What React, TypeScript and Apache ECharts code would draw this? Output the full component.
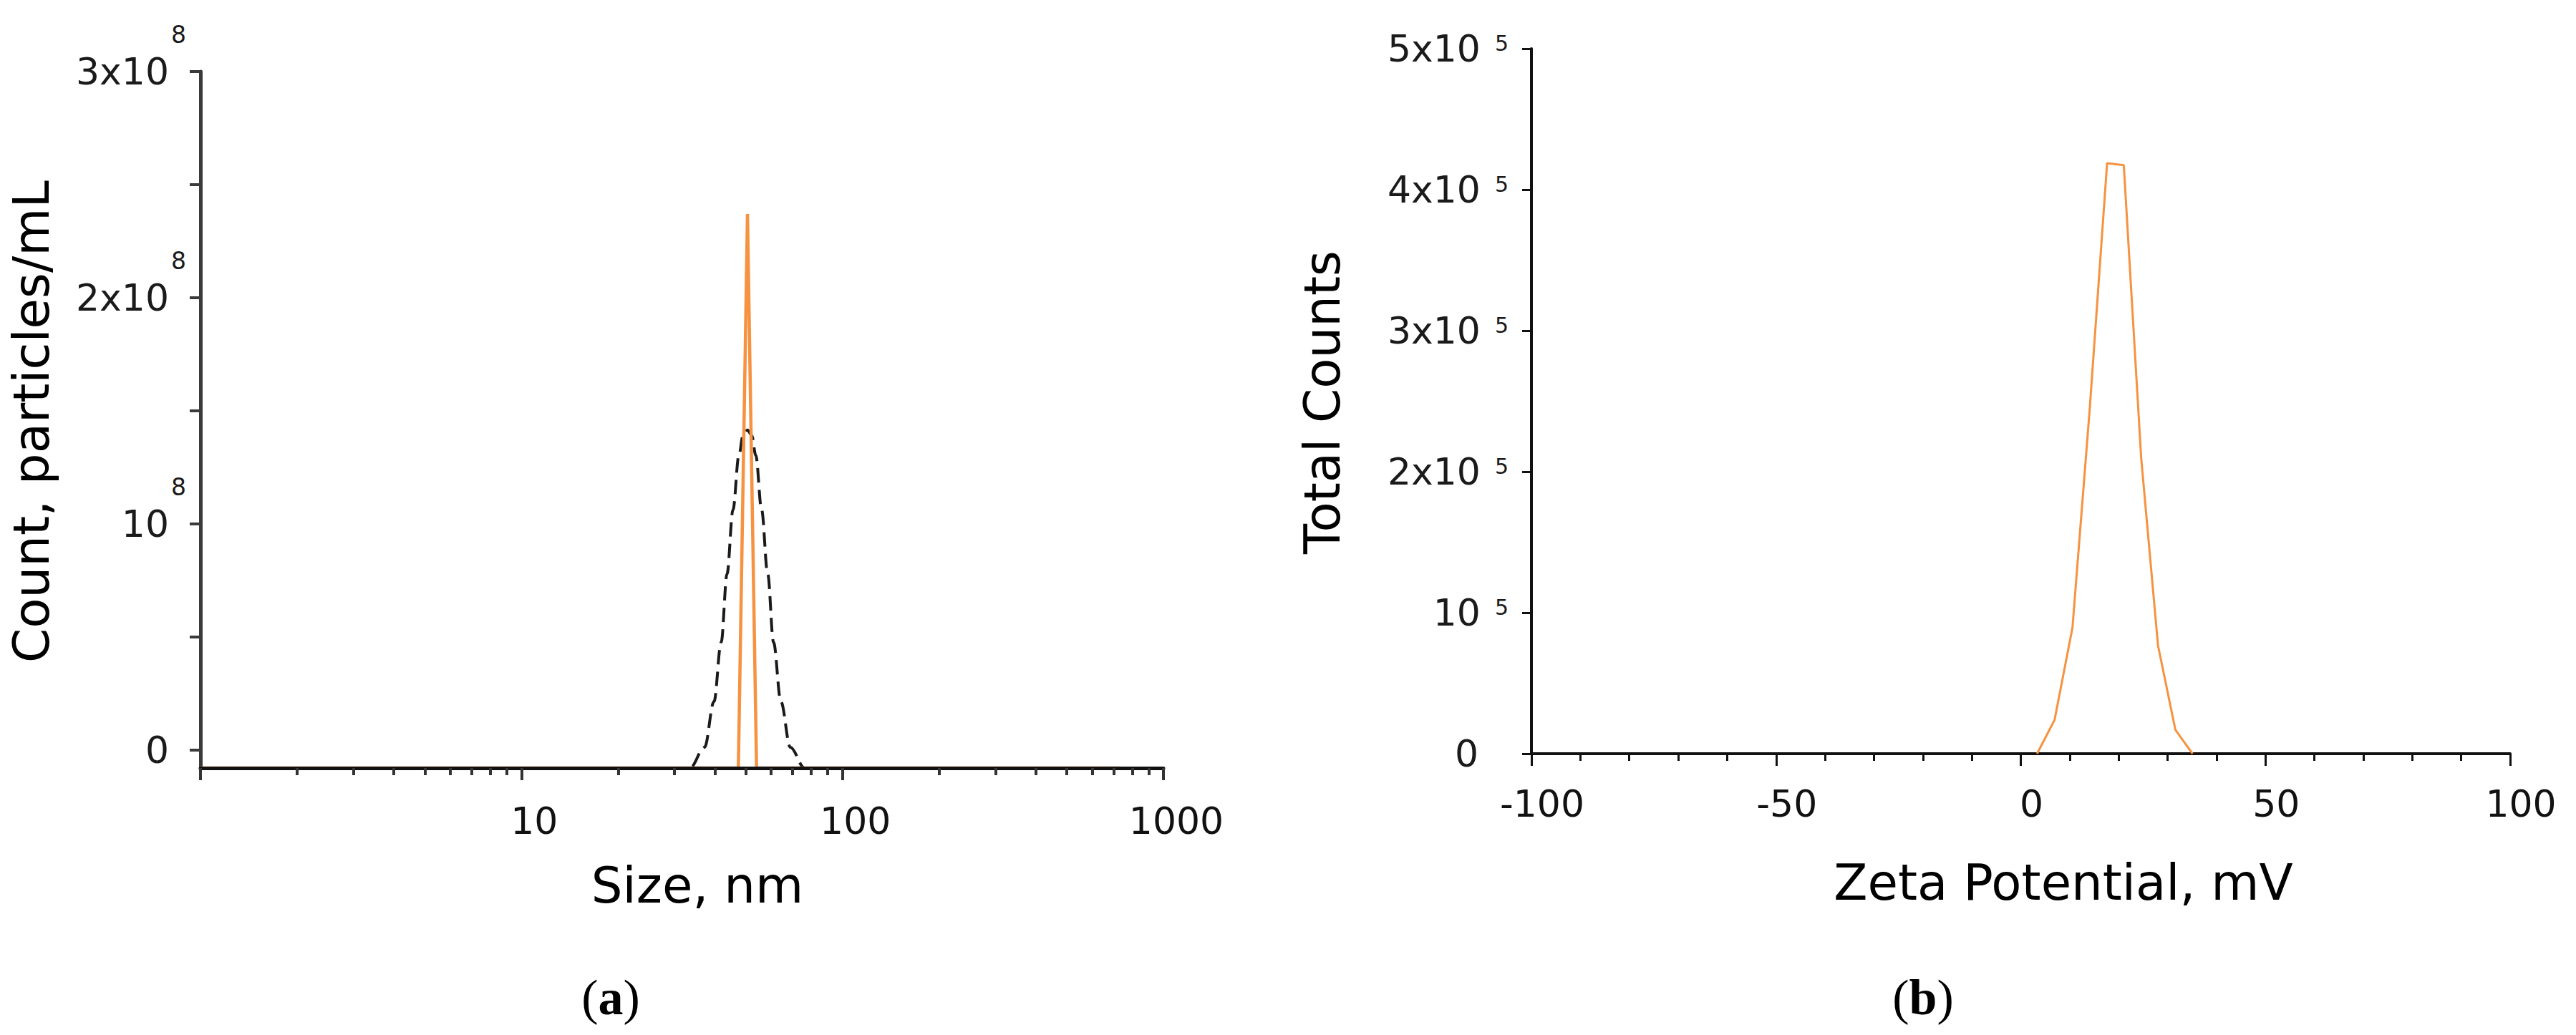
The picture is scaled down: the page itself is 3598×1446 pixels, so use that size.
import React, { useEffect, useRef } from "react";
import * as echarts from "echarts";

// ---- (a) particle size distribution ----
const sizeMajorTicks = [1, 10, 100, 1000];
const sizeMinorTicks = [2, 3, 4, 5, 6, 7, 8, 9, 20, 30, 40, 50, 60, 70, 80, 90, 200, 300, 400, 500, 600, 700, 800, 900];
const countTickValues = [0, 0.5e8, 1e8, 1.5e8, 2e8, 2.5e8, 3e8];
const countLabelValues = [0, 1e8, 2e8, 3e8];
const countAxisMin = -8e6;
const countAxisMax = 3e8;

// measured size (orange spike)
const measuredSizeNm = [1, 47.4, 50.6, 54.0, 730];
const measuredCount = [-8e6, -8e6, 2.37e8, -8e6, -8e6];

// fitted distribution (dashed)
const fitSizeNm = [10, 33.5, 37.2, 39.8, 41.9, 43.7, 45.6, 47.6, 49.0, 50.6, 52.2, 53.7, 56.0, 58.5, 61.0, 64.3, 68.8, 76.2, 250];
const fitCount = [-8e6, -8e6, 1.2e6, 2.14e7, 4.76e7, 7.79e7, 1.062e8, 1.304e8, 1.39e8, 1.415e8, 1.39e8, 1.304e8, 1.062e8, 7.79e7, 4.76e7, 2.14e7, 1.2e6, -8e6, -8e6];

// ---- (b) zeta potential ----
const zetaTickValues = [-100, -50, 0, 50, 100];
const zetaMv = [3.33, 6.9, 10.56, 14.1, 17.64, 21.05, 24.6, 28.04, 31.6, 35.1];
const zetaCounts = [0, 0.239e5, 0.893e5, 2.45e5, 4.188e5, 4.174e5, 2.1e5, 0.768e5, 0.169e5, 0];
const totalCountTicks = [0, 1e5, 2e5, 3e5, 4e5, 5e5];

const FONT = "DejaVu Sans";
const ORANGE = "#f69240";

export default function App() {
  const ref = useRef<HTMLDivElement>(null);
  useEffect(() => {
    document.body.style.margin = "0";
    const chart = echarts.init(ref.current!, null, { renderer: "svg" });
    const option: any = {
      animation: false,
      backgroundColor: "#ffffff",
      grid: [
        { left: 280, top: 100, width: 1345, height: 973 },
        { left: 2139, top: 68, width: 1367, height: 985 },
      ],
      xAxis: [
        {
          type: "log",
          gridIndex: 0,
          logBase: 10,
          z: 5,
          min: sizeMajorTicks[0],
          max: sizeMajorTicks[sizeMajorTicks.length - 1],
          position: "bottom",
          axisLine: { show: true, onZero: false, lineStyle: { color: "#111", width: 5 } },
          axisTick: { show: true, length: 17, lineStyle: { color: "#333", width: 4 } },
          axisLabel: {
            formatter: (v: number) => (v === 1 ? "" : String(v)),
            fontSize: 52,
            lineHeight: 52,
            fontFamily: FONT,
            color: "#111",
            margin: 48,
            padding: [0, 0, 0, 36],
          },
          splitLine: { show: false },
        },
        {
          type: "value",
          gridIndex: 1,
          min: zetaTickValues[0],
          max: zetaTickValues[zetaTickValues.length - 1],
          interval: 50,
          position: "bottom",
          axisLine: { show: true, onZero: false, lineStyle: { color: "#111", width: 4 } },
          axisTick: { show: true, length: 17, lineStyle: { color: "#111", width: 3 } },
          minorTick: { show: true, splitNumber: 5, length: 10, lineStyle: { color: "#111", width: 3 } },
          axisLabel: {
            fontSize: 52,
            lineHeight: 52,
            fontFamily: FONT,
            color: "#111",
            margin: 44,
            padding: [0, 0, 0, 30],
          },
          splitLine: { show: false },
        },
        {
          type: "value",
          gridIndex: 0,
          min: 0,
          max: 3,
          z: 5,
          position: "bottom",
          axisLine: { show: false, onZero: false },
          axisTick: {
            show: true,
            length: 10,
            customValues: sizeMinorTicks.map((v) => Math.log10(v)),
            lineStyle: { color: "#333", width: 4 },
          },
          axisLabel: { show: false },
          splitLine: { show: false },
        },
      ],
      yAxis: [
        {
          type: "value",
          gridIndex: 0,
          min: countAxisMin,
          max: countAxisMax,
          axisLine: { show: true, onZero: false, lineStyle: { color: "#3a3a3a", width: 5 } },
          axisTick: {
            show: true,
            length: 15,
            customValues: countTickValues,
            lineStyle: { color: "#3a3a3a", width: 4 },
          },
          axisLabel: {
            customValues: countLabelValues,
            margin: 20,
            formatter: (v: number) => {
              if (v === 0) return "{m|0}{p|}";
              const k = Math.round(v / 1e8);
              return k === 1 ? "{m|10}{s|8}" : `{m|${k}x10}{s|8}`;
            },
            rich: {
              m: { fontSize: 52, fontFamily: FONT, color: "#1a1a1a", lineHeight: 136 },
              s: { fontSize: 33, fontFamily: FONT, color: "#1a1a1a", lineHeight: 33, verticalAlign: "top", padding: [0, 0, 0, 3] },
              p: { width: 24 },
            },
          },
          splitLine: { show: false },
        },
        {
          type: "value",
          gridIndex: 1,
          min: totalCountTicks[0],
          max: totalCountTicks[totalCountTicks.length - 1],
          interval: 1e5,
          axisLine: { show: true, onZero: false, lineStyle: { color: "#111", width: 4 } },
          axisTick: { show: true, length: 13, lineStyle: { color: "#111", width: 3 } },
          axisLabel: {
            margin: 32,
            formatter: (v: number) => {
              if (v === 0) return "{m|0}{p|}";
              const k = Math.round(v / 1e5);
              return k === 1 ? "{m|10}{s|5}" : `{m|${k}x10}{s|5}`;
            },
            rich: {
              m: { fontSize: 52, fontFamily: FONT, color: "#1a1a1a", lineHeight: 52 },
              s: { fontSize: 30, fontFamily: FONT, color: "#1a1a1a", lineHeight: 30, verticalAlign: "top", padding: [3, 0, 0, 20] },
              p: { width: 42 },
            },
          },
          splitLine: { show: false },
        },
      ],
      series: [
        {
          type: "line",
          xAxisIndex: 0,
          yAxisIndex: 0,
          data: measuredSizeNm.map((x, i) => [x, measuredCount[i]]),
          symbol: "none",
          clip: false,
          lineStyle: { color: ORANGE, width: 4.5 },
          z: 3,
        },
        {
          type: "line",
          xAxisIndex: 0,
          yAxisIndex: 0,
          data: fitSizeNm.map((x, i) => [x, fitCount[i]]),
          symbol: "none",
          clip: false,
          smooth: 0.35,
          smoothMonotone: "x",
          lineStyle: { color: "#1a1a1a", width: 4, type: [20, 10] },
          z: 2,
        },
        {
          type: "line",
          xAxisIndex: 1,
          yAxisIndex: 1,
          data: zetaMv.map((x, i) => [x, zetaCounts[i]]),
          symbol: "none",
          clip: false,
          lineStyle: { color: ORANGE, width: 3 },
          z: 3,
        },
      ],
      graphic: [
        {
          type: "text",
          x: 974,
          y: 1237,
          style: { text: "Size, nm", fontSize: 69, fontFamily: FONT, fill: "#000", align: "center", verticalAlign: "middle" },
        },
        {
          type: "text",
          x: 44,
          y: 589,
          rotation: Math.PI / 2,
          style: { text: "Count, particles/mL", fontSize: 69, fontFamily: FONT, fill: "#000", align: "center", verticalAlign: "middle" },
        },
        {
          type: "text",
          x: 2882,
          y: 1233,
          style: { text: "Zeta Potential, mV", fontSize: 69, fontFamily: FONT, fill: "#000", align: "center", verticalAlign: "middle" },
        },
        {
          type: "text",
          x: 1847,
          y: 562,
          rotation: Math.PI / 2,
          style: { text: "Total Counts", fontSize: 69, fontFamily: FONT, fill: "#000", align: "center", verticalAlign: "middle" },
        },
        {
          type: "text",
          x: 853,
          y: 1393,
          style: {
            text: "{p|(}{b|a}{p|)}",
            align: "center",
            verticalAlign: "middle",
            rich: {
              p: { fontSize: 70, fontFamily: "Liberation Serif", fill: "#000" },
              b: { fontSize: 70, fontFamily: "Liberation Serif", fontWeight: "bold", fill: "#000" },
            },
          },
        },
        {
          type: "text",
          x: 2686,
          y: 1393,
          style: {
            text: "{p|(}{b|b}{p|)}",
            align: "center",
            verticalAlign: "middle",
            rich: {
              p: { fontSize: 70, fontFamily: "Liberation Serif", fill: "#000" },
              b: { fontSize: 70, fontFamily: "Liberation Serif", fontWeight: "bold", fill: "#000" },
            },
          },
        },
      ],
    };
    chart.setOption(option);
    return () => chart.dispose();
  }, []);
  return (
    <div
      ref={ref}
      style={{ position: "absolute", left: 0, top: 0, width: 3598, height: 1446, background: "#fff" }}
    />
  );
}
